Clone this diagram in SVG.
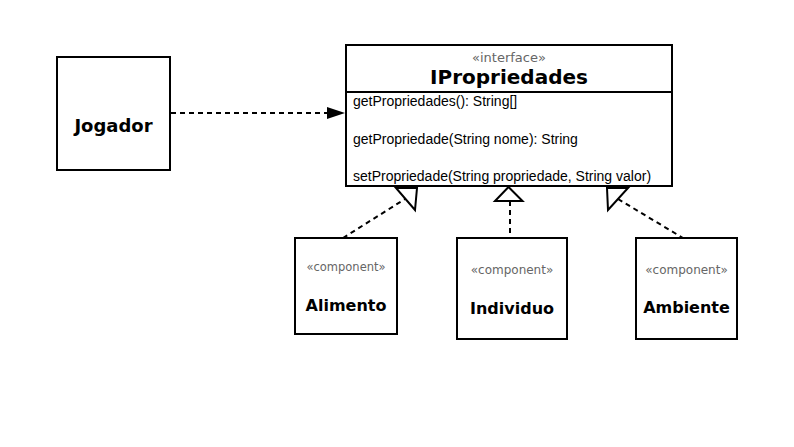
<svg xmlns="http://www.w3.org/2000/svg" width="794" height="447" viewBox="0 0 794 447">
<style>
.box{fill:#fff;stroke:#000;stroke-width:2}
.title{font-family:"DejaVu Sans",sans-serif;font-weight:bold;fill:#000;text-anchor:middle}
.stereo{font-family:"DejaVu Sans",sans-serif;fill:#666;text-anchor:middle}
.method{font-family:"Liberation Sans",Arial,sans-serif;font-size:14px;fill:#000}
.dash{fill:none;stroke:#000;stroke-width:2;stroke-dasharray:5 4}
.tri{fill:#fff;stroke:#000;stroke-width:2;stroke-linejoin:miter}
</style>
<rect width="794" height="447" fill="#fff"/>
<g id="connectors">
<line class="dash" x1="171" y1="113" x2="328" y2="113"/>
<path d="M327,107 L345,113 L327,119 Z" fill="#000"/>
<line class="dash" x1="343" y1="238" x2="405" y2="199"/>
<polygon class="tri" points="396,188 417,188 415,210"/>
<line class="dash" x1="510" y1="201" x2="510" y2="238"/>
<polygon class="tri" points="508.5,187 495,201 522.5,201"/>
<line class="dash" x1="618" y1="199" x2="683" y2="238"/>
<polygon class="tri" points="607,188 628,188 608,210"/>
</g>
<g id="Jogador">
<rect class="box" x="57" y="57" width="113" height="113"/>
<text class="title" x="113.5" y="132" font-size="18">Jogador</text>
</g>
<g id="IPropriedades">
<rect class="box" x="346" y="45" width="326" height="141"/>
<line x1="346" y1="92" x2="672" y2="92" stroke="#000" stroke-width="2"/>
<text class="stereo" x="509" y="62" font-size="13">«interface»</text>
<text class="title" x="509" y="84" font-size="20">IPropriedades</text>
<text class="method" x="353" y="106">getPropriedades(): String[]</text>
<text class="method" x="353" y="143.5">getPropriedade(String nome): String</text>
<text class="method" x="353" y="181">setPropriedade(String propriedade, String valor)</text>
</g>
<g id="Alimento">
<rect class="box" x="295" y="238" width="102" height="96"/>
<text class="stereo" x="346" y="271" font-size="11.5">«component»</text>
<text class="title" x="346" y="311" font-size="16">Alimento</text>
</g>
<g id="Individuo">
<rect class="box" x="457" y="238" width="110" height="101"/>
<text class="stereo" x="512" y="274" font-size="12">«component»</text>
<text class="title" x="512" y="314" font-size="16">Individuo</text>
</g>
<g id="Ambiente">
<rect class="box" x="636" y="238" width="101" height="101"/>
<text class="stereo" x="686.5" y="274" font-size="12">«component»</text>
<text class="title" x="686.5" y="313" font-size="16">Ambiente</text>
</g>
</svg>
